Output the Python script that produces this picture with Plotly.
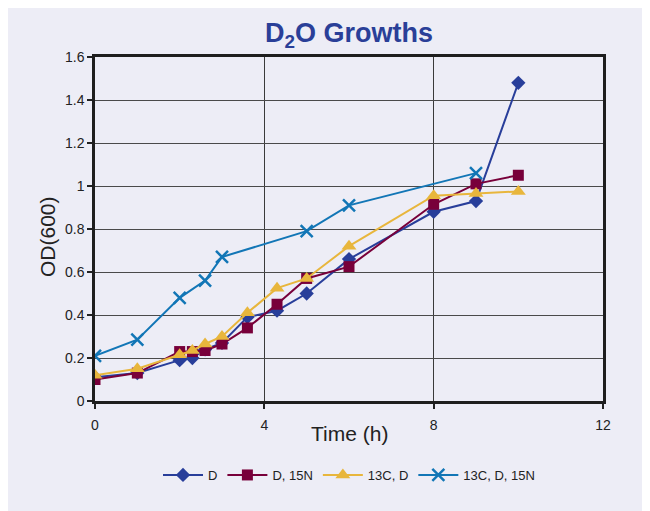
import plotly.graph_objects as go

# Data
t_d = [0, 1, 2, 2.3, 2.6, 3, 3.6, 4.3, 5, 6, 8, 9, 10]
od_d = [0.11, 0.13, 0.19, 0.20, 0.24, 0.27, 0.39, 0.42, 0.50, 0.66, 0.88, 0.93, 1.48]

t_d15n = [0, 1, 2, 2.3, 2.6, 3, 3.6, 4.3, 5, 6, 8, 9, 10]
od_d15n = [0.10, 0.13, 0.23, 0.23, 0.235, 0.265, 0.34, 0.45, 0.57, 0.625, 0.915, 1.01, 1.05]

t_13cd = [0, 1, 2, 2.3, 2.6, 3, 3.6, 4.3, 5, 6, 8, 9, 10]
od_13cd = [0.12, 0.15, 0.215, 0.235, 0.265, 0.30, 0.41, 0.525, 0.57, 0.72, 0.955, 0.965, 0.975]

t_13cd15n = [0, 1, 2, 2.6, 3, 5, 6, 9]
od_13cd15n = [0.21, 0.285, 0.48, 0.56, 0.67, 0.79, 0.91, 1.06]

series_names = ["D", "D, 15N", "13C, D", "13C, D, 15N"]
x_ticks = [0, 4, 8, 12]
y_ticks = [0, 0.2, 0.4, 0.6, 0.8, 1, 1.2, 1.4, 1.6]
y_tick_text = ["0", "0.2", "0.4", "0.6", "0.8", "1", "1.2", "1.4", "1.6"]

BG = "#EDEDF6"
FONT = "Liberation Sans"

fig = go.Figure()
fig.add_trace(go.Scatter(x=t_d, y=od_d, name=series_names[0], mode="lines+markers",
                         line=dict(color="#283E9A", width=2),
                         marker=dict(symbol="diamond", size=11, color="#283E9A")))
fig.add_trace(go.Scatter(x=t_d15n, y=od_d15n, name=series_names[1], mode="lines+markers",
                         line=dict(color="#78003A", width=2),
                         marker=dict(symbol="square", size=11, color="#78003A")))
fig.add_trace(go.Scatter(x=t_13cd, y=od_13cd, name=series_names[2], mode="lines+markers",
                         line=dict(color="#E8B63C", width=2),
                         marker=dict(symbol="triangle-up", size=13, color="#E8B63C")))
fig.add_trace(go.Scatter(x=t_13cd15n, y=od_13cd15n, name=series_names[3], mode="lines+markers",
                         line=dict(color="#1276B6", width=2),
                         marker=dict(symbol="x-thin", size=12, color="#1276B6",
                                     line=dict(color="#1276B6", width=2.5))))

# page has an 8px body margin: figure is 642x503 placed at (8, 8)
OFF = 8
W, H = 650 - OFF, 511 - OFF
L, T = 95 - OFF, 57 - OFF
R = W - (603 - OFF)
B = H - (401 - OFF)
pw, ph = W - L - R, H - T - B

def px_x(p):
    return (p - OFF - L) / pw

def px_y(p):
    return (H - B - (p - OFF)) / ph

fig.update_layout(
    width=W, height=H,
    margin=dict(l=L, r=R, t=T, b=B),
    paper_bgcolor=BG,
    plot_bgcolor=BG,
    font=dict(family=FONT, color="#222222", size=14),
    title=dict(text="D<sub>2</sub>O Growths", x=0.5, xref="paper", y=1 - (33 - OFF) / H,
               yanchor="middle", xanchor="center",
               font=dict(family=FONT, size=27, color="#2A3F98", weight="bold")),
    showlegend=True,
    legend=dict(orientation="h", x=0.5, xanchor="center", y=px_y(475), yanchor="middle",
                font=dict(size=13, color="#222222"), bgcolor="rgba(0,0,0,0)",
                itemwidth=40, tracegroupgap=0),
    xaxis=dict(range=[0, 12], tickvals=x_ticks, ticks="outside", ticklen=5,
               tickcolor="#222222", tickwidth=1.5,
               showline=True, linecolor="#1E1E1E", linewidth=2.5, mirror=True,
               showgrid=True, gridcolor="#3A3A3A", gridwidth=1, zeroline=False,
               ticklabelstandoff=4, tickfont=dict(size=14)),
    yaxis=dict(range=[0, 1.6], tickvals=y_ticks, ticktext=y_tick_text, ticks="outside",
               ticklen=5, tickcolor="#222222", tickwidth=1.5,
               showline=True, linecolor="#1E1E1E", linewidth=2.5, mirror=True,
               showgrid=True, gridcolor="#4A4A4A", gridwidth=1.3, zeroline=False,
               tickfont=dict(size=14)),
)

fig.add_annotation(text="Time (h)", xref="paper", yref="paper", x=0.5, y=px_y(433),
                   xanchor="center", yanchor="middle", showarrow=False,
                   font=dict(family=FONT, size=21, color="#222222"))
fig.add_annotation(text="OD(600)", xref="paper", yref="paper", x=px_x(47), y=px_y(237),
                   xanchor="center", yanchor="middle", showarrow=False, textangle=-90,
                   font=dict(family=FONT, size=21, color="#222222"))

fig.write_html("out.html")
